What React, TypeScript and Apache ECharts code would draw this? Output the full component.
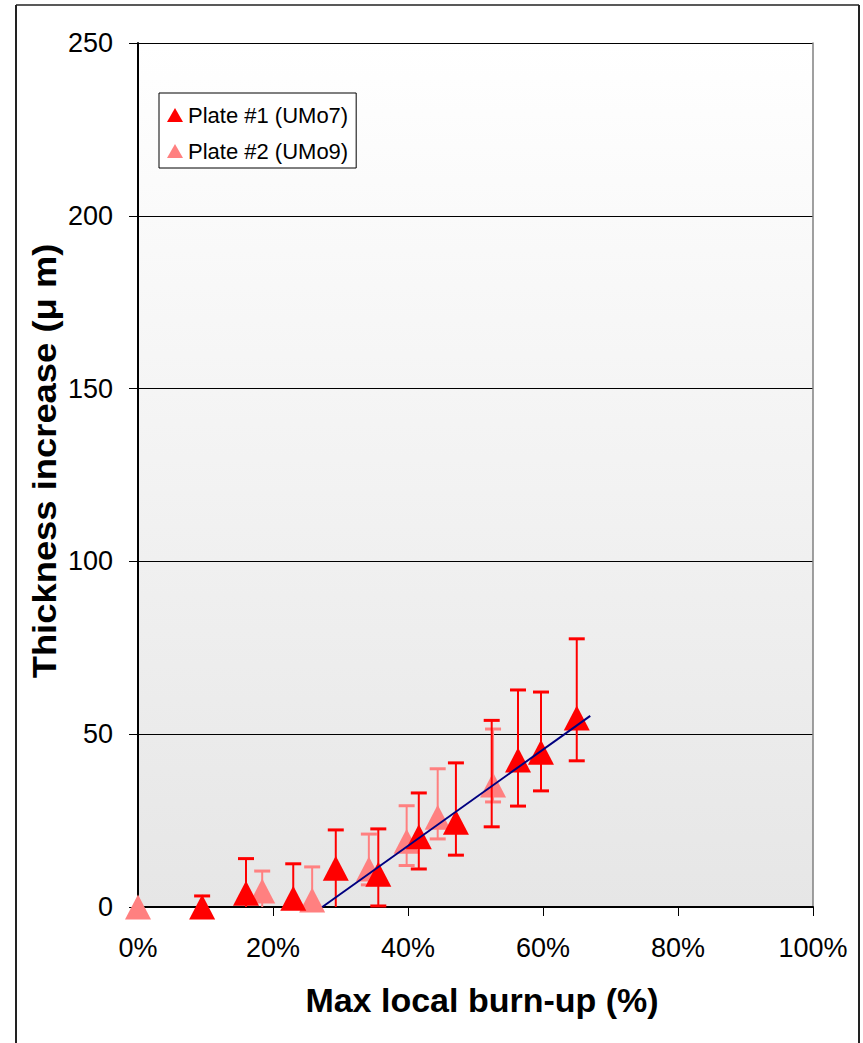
import React, { useEffect, useRef } from "react";
import * as echarts from "echarts";

// Plate #1 (UMo7) markers
const plate1X = [9.5, 16.0, 23.0, 29.3, 35.6, 41.6, 47.1, 56.3, 59.7, 65.0];
const plate1Y = [0, 4.0, 2.5, 11.2, 9.5, 20.3, 24.5, 42.5, 44.8, 54.7];
// Plate #1 error bars
const plate1ErrX = [9.5, 16.0, 23.0, 29.3, 35.6, 41.6, 47.1, 52.4, 56.3, 59.7, 65.0];
const plate1ErrLo = [-3, -6, -7, -1, 0.3, 11, 15, 23.2, 29.2, 33.6, 42.3];
const plate1ErrHi = [3.2, 14, 12.5, 22.3, 22.6, 33, 41.7, 54, 62.8, 62.2, 77.6];

// Plate #2 (UMo9) markers
const plate2X = [0, 18.4, 25.8, 34.2, 39.8, 44.4, 52.6];
const plate2Y = [0, 4.6, 2.0, 11.0, 19.0, 26.0, 35.3];
// Plate #2 error bars
const plate2ErrX = [18.4, 25.8, 34.2, 39.8, 44.4, 52.6];
const plate2ErrLo = [-1, -7, 6.4, 12, 19.7, 30.4];
const plate2ErrHi = [10.4, 11.6, 21.1, 29.3, 40, 51.5];

// Trend line
const trendX = [27.3, 67.0];
const trendY = [0, 55.3];

const NAME1 = "Plate #1 (UMo7)";
const NAME2 = "Plate #2 (UMo9)";
const RED = "#ff0000";
const PINK = "#ff8080";

function errSeries(xs: number[], lo: number[], hi: number[], color: string, z: number) {
  return {
    type: "custom",
    z,
    silent: true,
    encode: { x: 0, y: [1, 2] },
    data: xs.map((x, i) => [x, lo[i], hi[i]]),
    renderItem: (params: any, api: any) => {
      const x = api.value(0);
      const l = api.value(1);
      const h = api.value(2);
      const top = api.coord([x, h]);
      const bot = api.coord([x, Math.max(l, 0)]);
      const half = 8;
      const children: any[] = [
        { type: "line", shape: { x1: top[0], y1: top[1], x2: bot[0], y2: bot[1] }, style: { stroke: color, lineWidth: 2 } },
        { type: "line", shape: { x1: top[0] - half, y1: top[1], x2: top[0] + half, y2: top[1] }, style: { stroke: color, lineWidth: 3 } },
      ];
      if (l >= 0) {
        children.push({ type: "line", shape: { x1: bot[0] - half, y1: bot[1], x2: bot[0] + half, y2: bot[1] }, style: { stroke: color, lineWidth: 3 } });
      }
      return { type: "group", children };
    },
  };
}

export default function App() {
  const ref = useRef<HTMLDivElement>(null);
  useEffect(() => {
    document.body.style.margin = "0";
    const chart = echarts.init(ref.current!, null, { renderer: "svg" });
    const font = "Arial, 'Liberation Sans', sans-serif";
    chart.setOption({
      animation: false,
      textStyle: { fontFamily: font },
      grid: {
        left: 138,
        top: 43,
        right: 50,
        bottom: 136,
        show: true,
        borderWidth: 0,
        backgroundColor: {
          type: "linear",
          x: 0, y: 0, x2: 0, y2: 1,
          colorStops: [
            { offset: 0, color: "#ffffff" },
            { offset: 1, color: "#e6e6e6" },
          ],
        },
      },
      legend: {
        data: [
          { name: NAME1, icon: "triangle" },
          { name: NAME2, icon: "triangle" },
        ],
        orient: "vertical",
        left: 159,
        top: 93,
        itemWidth: 16,
        itemHeight: 14,
        itemGap: 14,
        padding: [11, 8, 6, 8],
        backgroundColor: "#ffffff",
        borderColor: "#000000",
        borderWidth: 1,
        textStyle: { fontSize: 22, color: "#000", fontFamily: font, lineHeight: 22 },
      },
      xAxis: {
        type: "value",
        min: 0,
        max: 100,
        interval: 20,
        axisLine: { lineStyle: { color: "#000", width: 2 } },
        axisTick: { show: true, inside: false, length: 9, lineStyle: { color: "#000", width: 1 } },
        axisLabel: { formatter: "{value}%", fontSize: 27, color: "#000", margin: 27, fontFamily: font },
        splitLine: { show: false },
      },
      yAxis: [
        {
          type: "value",
          min: 0,
          max: 250,
          interval: 50,
          axisLine: { show: true, lineStyle: { color: "#000", width: 2 } },
          axisTick: { show: true, inside: false, length: 9, lineStyle: { color: "#000", width: 1 } },
          axisLabel: { fontSize: 27, color: "#000", margin: 25, fontFamily: font },
          splitLine: { show: true, lineStyle: { color: "#000", width: 1 } },
        },
        {
          type: "value",
          position: "right",
          min: 0,
          max: 250,
          interval: 50,
          axisLine: { show: true, lineStyle: { color: "#808080", width: 1.5 } },
          axisTick: { show: false },
          axisLabel: { show: false },
          splitLine: { show: false },
        },
      ],
      graphic: [
        { type: "line", shape: { x1: 16, y1: 5, x2: 16, y2: 1043 }, style: { stroke: "#222", lineWidth: 2 } },
        { type: "line", shape: { x1: 16, y1: 5, x2: 859, y2: 5 }, style: { stroke: "#222", lineWidth: 1.5 } },
        { type: "line", shape: { x1: 859, y1: 5, x2: 859, y2: 1043 }, style: { stroke: "#222", lineWidth: 2 } },
        {
          type: "text",
          x: 482,
          y: 1000,
          style: {
            text: "Max local burn-up (%)",
            font: `bold 34px ${font}`,
            fill: "#000",
            textAlign: "center",
            textVerticalAlign: "middle",
          },
        },
        {
          type: "text",
          x: 44,
          y: 461,
          rotation: Math.PI / 2,
          scaleX: 1.07,
          style: {
            text: "Thickness increase (\u03bc m)",
            font: `bold 34px ${font}`,
            fill: "#000",
            textAlign: "center",
            textVerticalAlign: "middle",
          },
        },
      ],
      series: [
        errSeries(plate2ErrX, plate2ErrLo, plate2ErrHi, PINK, 2),
        {
          name: NAME2,
          type: "scatter",
          z: 3,
          symbol: "triangle",
          symbolSize: [26, 25],
          itemStyle: { color: PINK, opacity: 1 },
          data: plate2X.map((x, i) => [x, plate2Y[i]]),
        },
        errSeries(plate1ErrX, plate1ErrLo, plate1ErrHi, RED, 4),
        {
          name: NAME1,
          type: "scatter",
          z: 5,
          symbol: "triangle",
          symbolSize: [26, 25],
          itemStyle: { color: RED, opacity: 1 },
          data: plate1X.map((x, i) => [x, plate1Y[i]]),
        },
        {
          name: "Trend",
          type: "line",
          z: 6,
          showSymbol: false,
          silent: true,
          lineStyle: { color: "#000080", width: 2 },
          data: trendX.map((x, i) => [x, trendY[i]]),
        },
      ],
    });
    return () => chart.dispose();
  }, []);
  return <div ref={ref} style={{ width: 863, height: 1043 }} />;
}
